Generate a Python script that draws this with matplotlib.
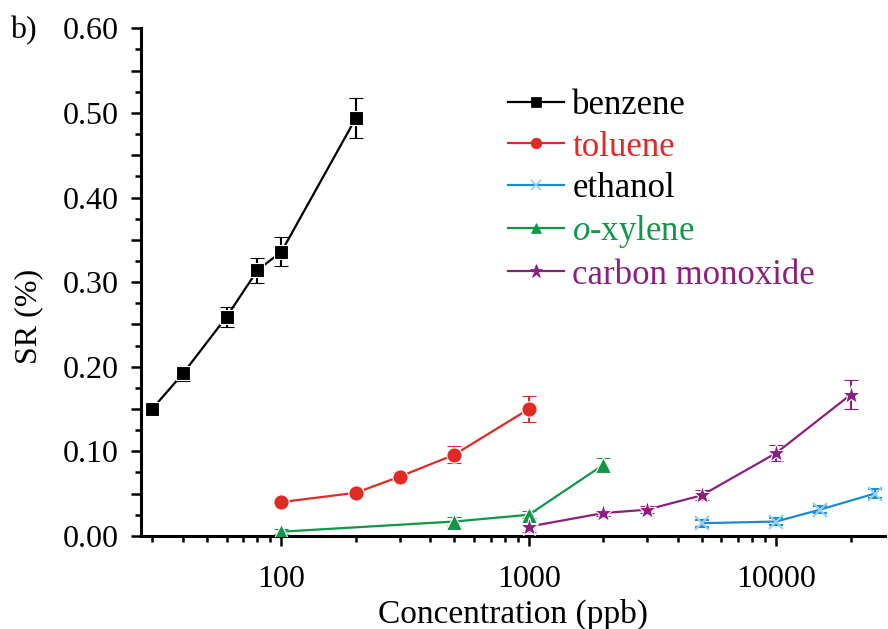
import numpy as np
import matplotlib
matplotlib.use('Agg')
import matplotlib.pyplot as plt
from matplotlib.lines import Line2D
from matplotlib.ticker import MultipleLocator, FuncFormatter, LogLocator, NullFormatter, FixedLocator

# data (concentration in ppb, SR in %)
benzene_x = [30, 40, 60, 80, 100, 200]
benzene_y = [0.150, 0.192, 0.259, 0.314, 0.336, 0.494]
benzene_e = [0.005, 0.009, 0.012, 0.015, 0.017, 0.024]

toluene_x = [100, 200, 300, 500, 1000]
toluene_y = [0.040, 0.051, 0.070, 0.096, 0.150]
toluene_e = [0.002, 0.003, 0.005, 0.010, 0.015]

ethanol_x = [5000, 10000, 15000, 25000]
ethanol_y = [0.015, 0.017, 0.031, 0.050]
ethanol_e = [0.004, 0.004, 0.004, 0.005]

xylene_x = [100, 500, 1000, 2000]
xylene_y = [0.005, 0.017, 0.025, 0.084]
xylene_e = [0.003, 0.005, 0.004, 0.008]

co_x = [1000, 2000, 3000, 5000, 10000, 20000]
co_y = [0.011, 0.027, 0.031, 0.048, 0.098, 0.167]
co_e = [0.006, 0.004, 0.004, 0.006, 0.010, 0.017]

plt.rcParams['font.family'] = ['Liberation Serif', 'DejaVu Serif']
plt.rcParams['mathtext.fontset'] = 'custom'
plt.rcParams['mathtext.it'] = 'Liberation Serif:italic'
plt.rcParams['mathtext.rm'] = 'Liberation Serif'

fig = plt.figure(figsize=(8.88, 6.29), dpi=100)
ax = fig.add_axes([0.159, 0.148, 0.838, 0.807])

series = [
    (benzene_x, benzene_y, benzene_e, 'black', 's', 10, 'benzene', 'black'),
    (toluene_x, toluene_y, toluene_e, '#e02a26', 'o', 11, 'toluene', '#e02a26'),
    (ethanol_x, ethanol_y, ethanol_e, '#1f8ad0', 'x', 10, 'ethanol', 'black'),
    (xylene_x, xylene_y, xylene_e, '#0f9848', '^', 11, '$\\mathit{o}$-xylene', '#0f9848'),
    (co_x, co_y, co_e, '#8c1f7f', '*', 14, 'carbon monoxide', '#8c1f7f'),
]

handles = []
for x, y, e, c, m, ms, lab, tc in series:
    if m == 'x':
        mec, mew = '#8fd0f2', 1.5
    else:
        mec, mew = 'white', 0.8
    ax.errorbar(x, y, yerr=e, color=c, marker=m, markersize=ms,
                markeredgecolor=mec, markeredgewidth=mew, lw=1.6,
                ecolor=c, elinewidth=1.5, capsize=5, capthick=1.5, zorder=3)
    handles.append(Line2D([], [], color=c, marker=m, markersize=ms * 0.7,
                          markeredgecolor=mec if m == 'x' else c,
                          markeredgewidth=1.2 if m == 'x' else 0.5,
                          lw=1.6, label=lab))

ax.set_xscale('log')
ax.set_xlim(27.1, 27600)
ax.set_ylim(0, 0.60)

ax.yaxis.set_major_locator(MultipleLocator(0.05))
ax.yaxis.set_minor_locator(MultipleLocator(0.025))
ax.yaxis.set_major_formatter(FuncFormatter(
    lambda v, p: f'{v:.2f}' if abs(round(v * 10) - v * 10) < 1e-6 else ''))
ax.xaxis.set_major_locator(FixedLocator([100, 1000, 10000]))
ax.xaxis.set_major_formatter(FuncFormatter(lambda v, p: f'{int(v)}'))
ax.xaxis.set_minor_locator(LogLocator(base=10, subs=np.arange(2, 10)))
ax.xaxis.set_minor_formatter(NullFormatter())

for s in ['top', 'right']:
    ax.spines[s].set_visible(False)
for s in ['left', 'bottom']:
    ax.spines[s].set_linewidth(2.2)

ax.tick_params(which='major', direction='out', length=7, width=1.8, labelsize=23)
ax.tick_params(axis='y', which='major', pad=9)
ax.tick_params(axis='x', which='major', pad=14)
ax.tick_params(which='minor', direction='out', length=4, width=1.8)

ax.set_xlabel('Concentration (ppb)', fontsize=24)
ax.xaxis.set_label_coords(0.5, -0.124)
ax.xaxis.label.set_va('top')
ax.set_ylabel('SR (%)', fontsize=23)
ax.yaxis.set_label_coords(-0.132, 0.433)

leg = ax.legend(handles=handles, loc='upper left', bbox_to_anchor=(0.493, 0.88),
                frameon=False, fontsize=25, handlelength=1.6, handletextpad=0.25,
                labelspacing=0.24, borderpad=0, borderaxespad=0,
                labelcolor=[s[7] for s in series])

fig.text(0.011, 0.952, 'b)', fontsize=23, va='center', ha='left')

fig.savefig('out.png', dpi=100)
